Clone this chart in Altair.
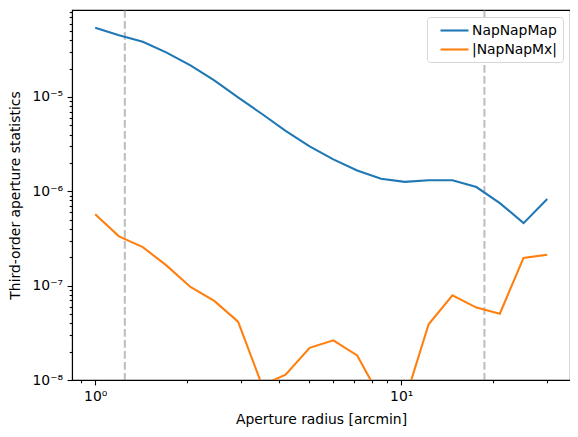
import altair as alt
import pandas as pd

radius = [1.0, 1.196, 1.431, 1.712, 2.048, 2.45, 2.93, 3.51, 4.19, 5.02,
          6.00, 7.18, 8.59, 10.27, 12.29, 14.7, 17.6, 21.0, 25.1, 30.0]
nap_map = [5.4e-5, 4.5e-5, 3.84e-5, 2.95e-5, 2.16e-5, 1.5e-5, 9.9e-6, 6.6e-6, 4.37e-6, 3.0e-6,
           2.18e-6, 1.66e-6, 1.36e-6, 1.26e-6, 1.31e-6, 1.31e-6, 1.11e-6, 7.5e-7, 4.6e-7, 8.3e-7]
nap_mx = [5.7e-7, 3.33e-7, 2.56e-7, 1.63e-7, 9.7e-8, 6.9e-8, 4.15e-8, 8.8e-9, 1.14e-8, 2.19e-8,
          2.63e-8, 1.82e-8, 6.3e-9, 6.0e-9, 3.9e-8, 7.9e-8, 5.86e-8, 5.05e-8, 1.97e-7, 2.13e-7]
series_names = ["NapNapMap", "|NapNapMx|"]
series_colors = ["#1f77b4", "#ff7f0e"]
vlines = [1.25, 18.7]

x_ticks = [0.9, 1, 2, 3, 4, 5, 6, 7, 8, 9, 10, 20, 30]
y_ticks = [m * 10.0 ** e for e in (-8, -7, -6, -5) for m in range(1, 10)]
x_domain = [0.84, 35.6]
y_domain = [1e-8, 8.35e-5]

df = pd.DataFrame({
    "radius": radius * 2,
    "value": nap_map + nap_mx,
    "series": [series_names[0]] * len(radius) + [series_names[1]] * len(radius),
})
vdf = pd.DataFrame({"xv": vlines})

FONT = "DejaVu Sans"
FS = 13.9
dec = "abs(log(datum.value)/LN10 - round(log(datum.value)/LN10)) < 1e-6"
x_label = f"({dec}) ? (round(log(datum.value)/LN10) == 0 ? '10⁰' : '10¹') : ''"
y_label = (f"({dec}) ? (round(log(datum.value)/LN10) == -5 ? '10⁻⁵' : "
           "round(log(datum.value)/LN10) == -6 ? '10⁻⁶' : "
           "round(log(datum.value)/LN10) == -7 ? '10⁻⁷' : '10⁻⁸') : ''")
tick_size = {"condition": {"test": dec, "value": 4.9}, "value": 2.8}

xscale = alt.Scale(type="log", domain=x_domain, nice=False)
yscale = alt.Scale(type="log", domain=y_domain, nice=False)

xaxis = alt.Axis(title="Aperture radius [arcmin]", values=x_ticks, labelExpr=x_label,
                 tickSize=tick_size, grid=False, labelFlush=False, labelOverlap=False,
                 labelPadding=4.5, titlePadding=9)
yaxis = alt.Axis(title="Third-order aperture statistics", values=y_ticks, labelExpr=y_label,
                 tickSize=tick_size, grid=False, labelFlush=False, labelOverlap=False,
                 labelPadding=4.5, titlePadding=10)

rules = alt.Chart(vdf).mark_rule(color="gray", opacity=0.5, strokeDash=[7.7, 3.3],
                                 strokeWidth=2.08).encode(
    x=alt.X("xv:Q", scale=xscale, axis=xaxis)
)

lines = alt.Chart(df).mark_line(strokeWidth=2.08, clip=True).encode(
    x=alt.X("radius:Q", scale=xscale, axis=xaxis),
    y=alt.Y("value:Q", scale=yscale, axis=yaxis),
    color=alt.Color("series:N",
                    scale=alt.Scale(domain=series_names, range=series_colors),
                    legend=alt.Legend(title=None, orient="top-right", offset=7,
                                      symbolType="M0,0L4,0", symbolSize=196,
                                      symbolStrokeWidth=2.08, labelFontSize=FS,
                                      labelFont=FONT, strokeColor="#d6d6d6",
                                      fillColor="white", padding=5, cornerRadius=3,
                                      rowPadding=3, labelOffset=23)),
    order="series:N",
)

chart = alt.layer(rules, lines).properties(
    width=498, height=370,
    autosize=alt.AutoSizeParams(type="none"),
    padding={"left": 64, "top": 2, "right": 0, "bottom": 49},
).configure_view(stroke="black", strokeWidth=1.1).configure_axis(
    domainColor="black", tickColor="black", labelColor="black", titleColor="black",
    labelFont=FONT, titleFont=FONT, labelFontSize=FS, titleFontSize=FS,
    titleFontWeight="normal", domainWidth=1.1, tickWidth=1.1,
)

chart.save("out.html", embed_options={"renderer": "svg", "actions": False})
